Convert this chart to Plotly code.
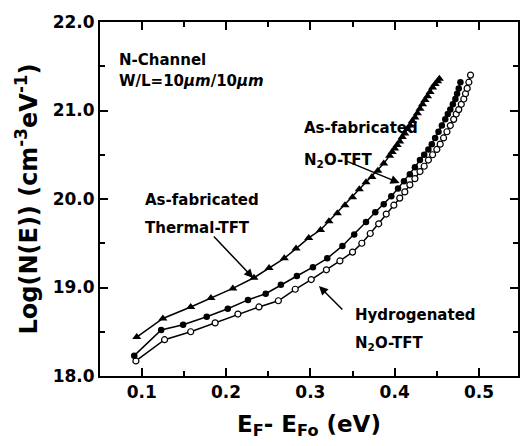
import plotly.graph_objects as go

# Hydrogenated N2O-TFT (open circles)
x_hyd = [0.093, 0.127, 0.158, 0.187, 0.214, 0.239, 0.262, 0.282, 0.301, 0.319, 0.335, 0.350,
         0.361, 0.371, 0.381, 0.390, 0.399, 0.406, 0.412, 0.418, 0.424, 0.430, 0.435, 0.440,
         0.445, 0.450, 0.454, 0.458, 0.462, 0.466, 0.470, 0.473, 0.476, 0.479, 0.482, 0.484,
         0.486, 0.488, 0.490]
y_hyd = [18.17, 18.41, 18.50, 18.60, 18.70, 18.78, 18.85, 18.98, 19.09, 19.20, 19.30, 19.40,
         19.50, 19.61, 19.72, 19.83, 19.93, 20.01, 20.08, 20.16, 20.23, 20.31, 20.37, 20.44,
         20.50, 20.56, 20.62, 20.69, 20.76, 20.83, 20.90, 20.96, 21.01, 21.07, 21.13, 21.19,
         21.25, 21.32, 21.40]

# As-fabricated N2O-TFT (filled circles)
x_n2o = [0.091, 0.123, 0.149, 0.177, 0.202, 0.226, 0.247, 0.265, 0.284, 0.303, 0.320, 0.338,
         0.352, 0.366, 0.377, 0.387, 0.396, 0.404, 0.411, 0.418, 0.424, 0.430, 0.435, 0.440,
         0.444, 0.448, 0.452, 0.456, 0.460, 0.463, 0.466, 0.469, 0.472, 0.474, 0.476, 0.478]
y_n2o = [18.23, 18.52, 18.58, 18.67, 18.76, 18.86, 18.93, 19.03, 19.13, 19.23, 19.33, 19.47,
         19.60, 19.74, 19.85, 19.94, 20.03, 20.12, 20.20, 20.28, 20.36, 20.44, 20.50, 20.56,
         20.62, 20.69, 20.76, 20.83, 20.90, 20.96, 21.01, 21.07, 21.13, 21.19, 21.25, 21.32]

# As-fabricated Thermal-TFT (triangles)
x_th = [0.094, 0.125, 0.158, 0.182, 0.208, 0.233, 0.251, 0.269, 0.283, 0.298, 0.312, 0.322,
        0.332, 0.341, 0.350, 0.358, 0.366, 0.373, 0.380, 0.387, 0.394, 0.397, 0.400, 0.403,
        0.406, 0.409, 0.412, 0.415, 0.418, 0.421, 0.424, 0.427, 0.430, 0.433, 0.436, 0.439,
        0.442, 0.445, 0.448, 0.451, 0.453]
y_th = [18.44, 18.65, 18.78, 18.88, 18.99, 19.11, 19.22, 19.33, 19.44, 19.56, 19.65, 19.75,
        19.84, 19.93, 20.02, 20.11, 20.19, 20.25, 20.32, 20.40, 20.49, 20.53, 20.57, 20.61,
        20.65, 20.70, 20.74, 20.79, 20.83, 20.88, 20.92, 20.97, 21.02, 21.07, 21.12, 21.16,
        21.21, 21.26, 21.30, 21.33, 21.36]

x_ticks = [0.1, 0.2, 0.3, 0.4, 0.5]
y_ticks = [18.0, 19.0, 20.0, 21.0, 22.0]

FONT = "DejaVu Sans"

fig = go.Figure()
fig.add_trace(go.Scatter(x=x_hyd, y=y_hyd, mode="lines+markers",
                         line=dict(color="black", width=1.5),
                         marker=dict(symbol="circle", size=6, color="white",
                                     line=dict(color="black", width=1.2))))
fig.add_trace(go.Scatter(x=x_n2o, y=y_n2o, mode="lines+markers",
                         line=dict(color="black", width=1.5),
                         marker=dict(symbol="circle", size=6.5, color="black")))
fig.add_trace(go.Scatter(x=x_th, y=y_th, mode="lines+markers",
                         line=dict(color="black", width=1.5),
                         marker=dict(symbol="triangle-up", size=8, color="black")))

axis_common = dict(showline=True, linecolor="black", linewidth=2, mirror="ticks",
                   ticks="inside", ticklen=8, tickwidth=2, tickcolor="black",
                   showgrid=False, zeroline=False,
                   tickfont=dict(family=FONT, size=17, color="black", weight="bold"))

fig.update_xaxes(range=[0.0504, 0.5463], tickvals=x_ticks,
                 ticktext=[f"{v:.1f}" for v in x_ticks],
                 minor=dict(ticks="inside", ticklen=5, tickwidth=1.5, tickcolor="black", dtick=0.05, tick0=0.05),
                 title=dict(text="E<sub>F</sub>- E<sub>Fo</sub> (eV)",
                            font=dict(family=FONT, size=23, color="black", weight="bold"),
                            standoff=14),
                 **axis_common)
fig.update_yaxes(range=[18, 22], tickvals=y_ticks,
                 ticktext=[f"{v:.1f}" for v in y_ticks],
                 minor=dict(ticks="inside", ticklen=5, tickwidth=1.5, tickcolor="black", dtick=0.5, tick0=18),
                 title=dict(text="Log(N(E)) (cm<sup>-3</sup>eV<sup>-1</sup>)",
                            font=dict(family=FONT, size=24, color="black", weight="bold"),
                            standoff=8),
                 **axis_common)

afont = dict(family=FONT, size=15, color="black", weight="bold")
labels = [
    (0.0705, 21.57, "N-Channel"),
    (0.0705, 21.33, "W/L=10<i>μm</i>/10<i>μm</i>"),
    (0.1012, 19.99, "As-fabricated"),
    (0.1012, 19.67, "Thermal-TFT"),
    (0.290, 20.80, "As-fabricated"),
    (0.290, 20.44, "N<sub>2</sub>O-TFT"),
    (0.350, 18.69, "Hydrogenated"),
    (0.350, 18.37, "N<sub>2</sub>O-TFT"),
]
for x, y, t in labels:
    fig.add_annotation(x=x, y=y, text=t, showarrow=False, xanchor="left", yanchor="middle",
                       font=afont)

arrows = [
    ((0.1838, 19.593), (0.2322, 19.107)),
    ((0.3397, 20.44), (0.4058, 20.18)),
    ((0.3397, 18.734), (0.3102, 19.017)),
]
for (tx, ty), (hx, hy) in arrows:
    fig.add_annotation(x=hx, y=hy, ax=tx, ay=ty, xref="x", yref="y", axref="x", ayref="y",
                       text="", showarrow=True, arrowhead=2, arrowsize=1.2, arrowwidth=1.5,
                       arrowcolor="black", standoff=0)

fig.update_layout(width=524, height=446, margin=dict(l=100, r=4, t=22, b=70),
                  paper_bgcolor="white", plot_bgcolor="white", showlegend=False,
                  font=dict(family=FONT, color="black"))

fig.write_html("out.html")
